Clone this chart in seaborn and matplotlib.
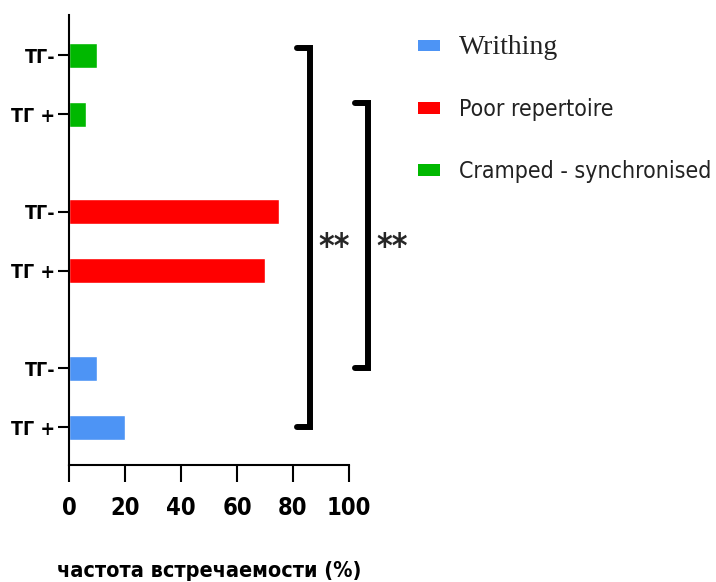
import matplotlib
matplotlib.use("Agg")
import matplotlib.pyplot as plt
import seaborn as sns
import pandas as pd
from matplotlib.patches import Patch

# data
categories = ["Writhing", "Poor repertoire", "Cramped - synchronised"]
groups = ["ТГ +", "ТГ-"]
writhing = [20, 10]
poor_repertoire = [70, 75]
cramped = [6, 10]
x_ticks = [0, 20, 40, 60, 80, 100]
x_label = "частота встречаемости (%)"
colors = {"Writhing": "#4d94f5", "Poor repertoire": "#ff0000",
          "Cramped - synchronised": "#00b800"}

series = [writhing, poor_repertoire, cramped]
rows = []
for gi, (cat, vals) in enumerate(zip(categories, series)):
    for si, (grp, v) in enumerate(zip(groups, vals)):
        rows.append({"category": cat, "group": grp, "value": v,
                     "pos": gi * 2.65 + si})
df = pd.DataFrame(rows)

sns.set_style("ticks")
plt.rcParams["font.family"] = ["DejaVu Sans"]
plt.rcParams["font.stretch"] = "condensed"

fig = plt.figure(figsize=(7.16, 5.82), dpi=100)
ax = fig.add_axes([0.0964, 0.201, 0.391, 0.773])

sns.barplot(data=df, x="value", y="pos", hue="category", palette=colors,
            orient="y", native_scale=True, dodge=False, width=0.42,
            saturation=1, legend=False, ax=ax)

ax.set_xlim(0, 100)
ax.set_ylim(-0.64, 6.98)
ax.set_xticks(x_ticks)
ax.set_xticklabels([str(t) for t in x_ticks], fontsize=17, fontweight="bold",
                   color="black")
ax.set_yticks(df["pos"])
ax.set_yticklabels(df["group"], fontsize=14, fontweight="bold", color="black")
ax.set_xlabel(x_label, fontsize=15.5, fontweight="bold", labelpad=30,
              color="black")
ax.set_ylabel("")

sns.despine(ax=ax)
for s in ["left", "bottom"]:
    ax.spines[s].set_linewidth(1.5)
    ax.spines[s].set_color("black")
ax.tick_params(axis="y", length=8, width=1.5, pad=2, color="black")
ax.tick_params(axis="x", length=12, width=1.5, pad=10, color="black")

# significance brackets
def bracket(x, y0, y1, hook=4.6):
    ax.plot([x - hook, x, x, x - hook], [y1, y1, y0, y0], color="black",
            lw=4.3, solid_joinstyle="miter", clip_on=False)

bracket(86, 0, 6.42)
bracket(106.8, 1, 5.49)
ax.text(94.6, 3.05, "**", fontsize=24, fontweight="bold", ha="center",
        va="center", clip_on=False)
ax.text(115.4, 3.05, "**", fontsize=24, fontweight="bold", ha="center",
        va="center", clip_on=False)

handles = [Patch(facecolor=colors[c], edgecolor="none") for c in categories]
leg = fig.legend(handles, categories, loc="upper left",
                 bbox_to_anchor=(0.555, 0.976), frameon=False, fontsize=16.6,
                 handlelength=0.94, handleheight=0.42, handletextpad=0.85,
                 labelspacing=1.68)
for t in leg.get_texts():
    t.set_color("#222222")
leg.get_texts()[0].set_fontfamily(["Liberation Serif", "DejaVu Serif"])
leg.get_texts()[0].set_fontstretch("normal")
leg.get_texts()[0].set_fontsize(20)

fig.savefig("out.png", dpi=100)
